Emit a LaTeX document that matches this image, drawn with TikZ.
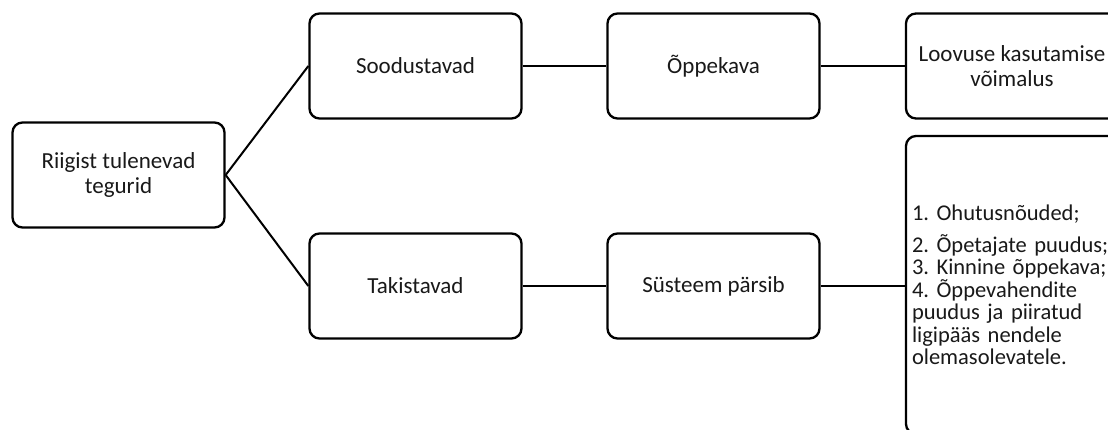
\documentclass[tikz,border=0pt]{standalone}
\usepackage{fontspec}
\setmainfont{Carlito}
\frenchspacing
\begin{document}
\begin{tikzpicture}[x=1pt,y=-1pt,
  box/.style={draw=black, line width=2.3pt, rounded corners=10pt, minimum width=212pt, minimum height=105pt, inner sep=0pt, align=center, font=\fontsize{23}{25}\selectfont, text=black!90},
  link/.style={draw=black, line width=2pt}]
\clip (0,0) rectangle (1108,430);
\fill[white] (0,0) rectangle (1108,430);
\node[box] (root) at (118.5,175) {Riigist tulenevad\\tegurid};
\node[box] (sood) at (415.5,66) {Soodustavad};
\node[box] (tak) at (415.5,286) {Takistavad};
\node[box] (opp) at (713.5,66) {Õppekava};
\node[box] (sys) at (713.5,286) {Süsteem pärsib};
\node[box] (loov) at (1012,66) {Loovuse kasutamise\\võimalus};
\node[box, minimum height=298pt, text width=200pt, inner xsep=6pt, align=left, font=\fontsize{22.5}{22.5}\selectfont\frenchspacing] (list) at (1012,285)
  {1. Ohutusnõuded;\\[9pt]2. Õpetajate puudus;\\3. Kinnine õppekava;\\4. Õppevahendite\\puudus ja piiratud\\ligipääs nendele\\olemasolevatele.};
\draw[link] (root.east) -- (sood.west);
\draw[link] (root.east) -- (tak.west);
\draw[link] (sood.east) -- (opp.west);
\draw[link] (opp.east) -- (loov.west);
\draw[link] (tak.east) -- (sys.west);
\draw[link] (sys.east) -- (sys.east -| list.west);
\end{tikzpicture}
\end{document}
